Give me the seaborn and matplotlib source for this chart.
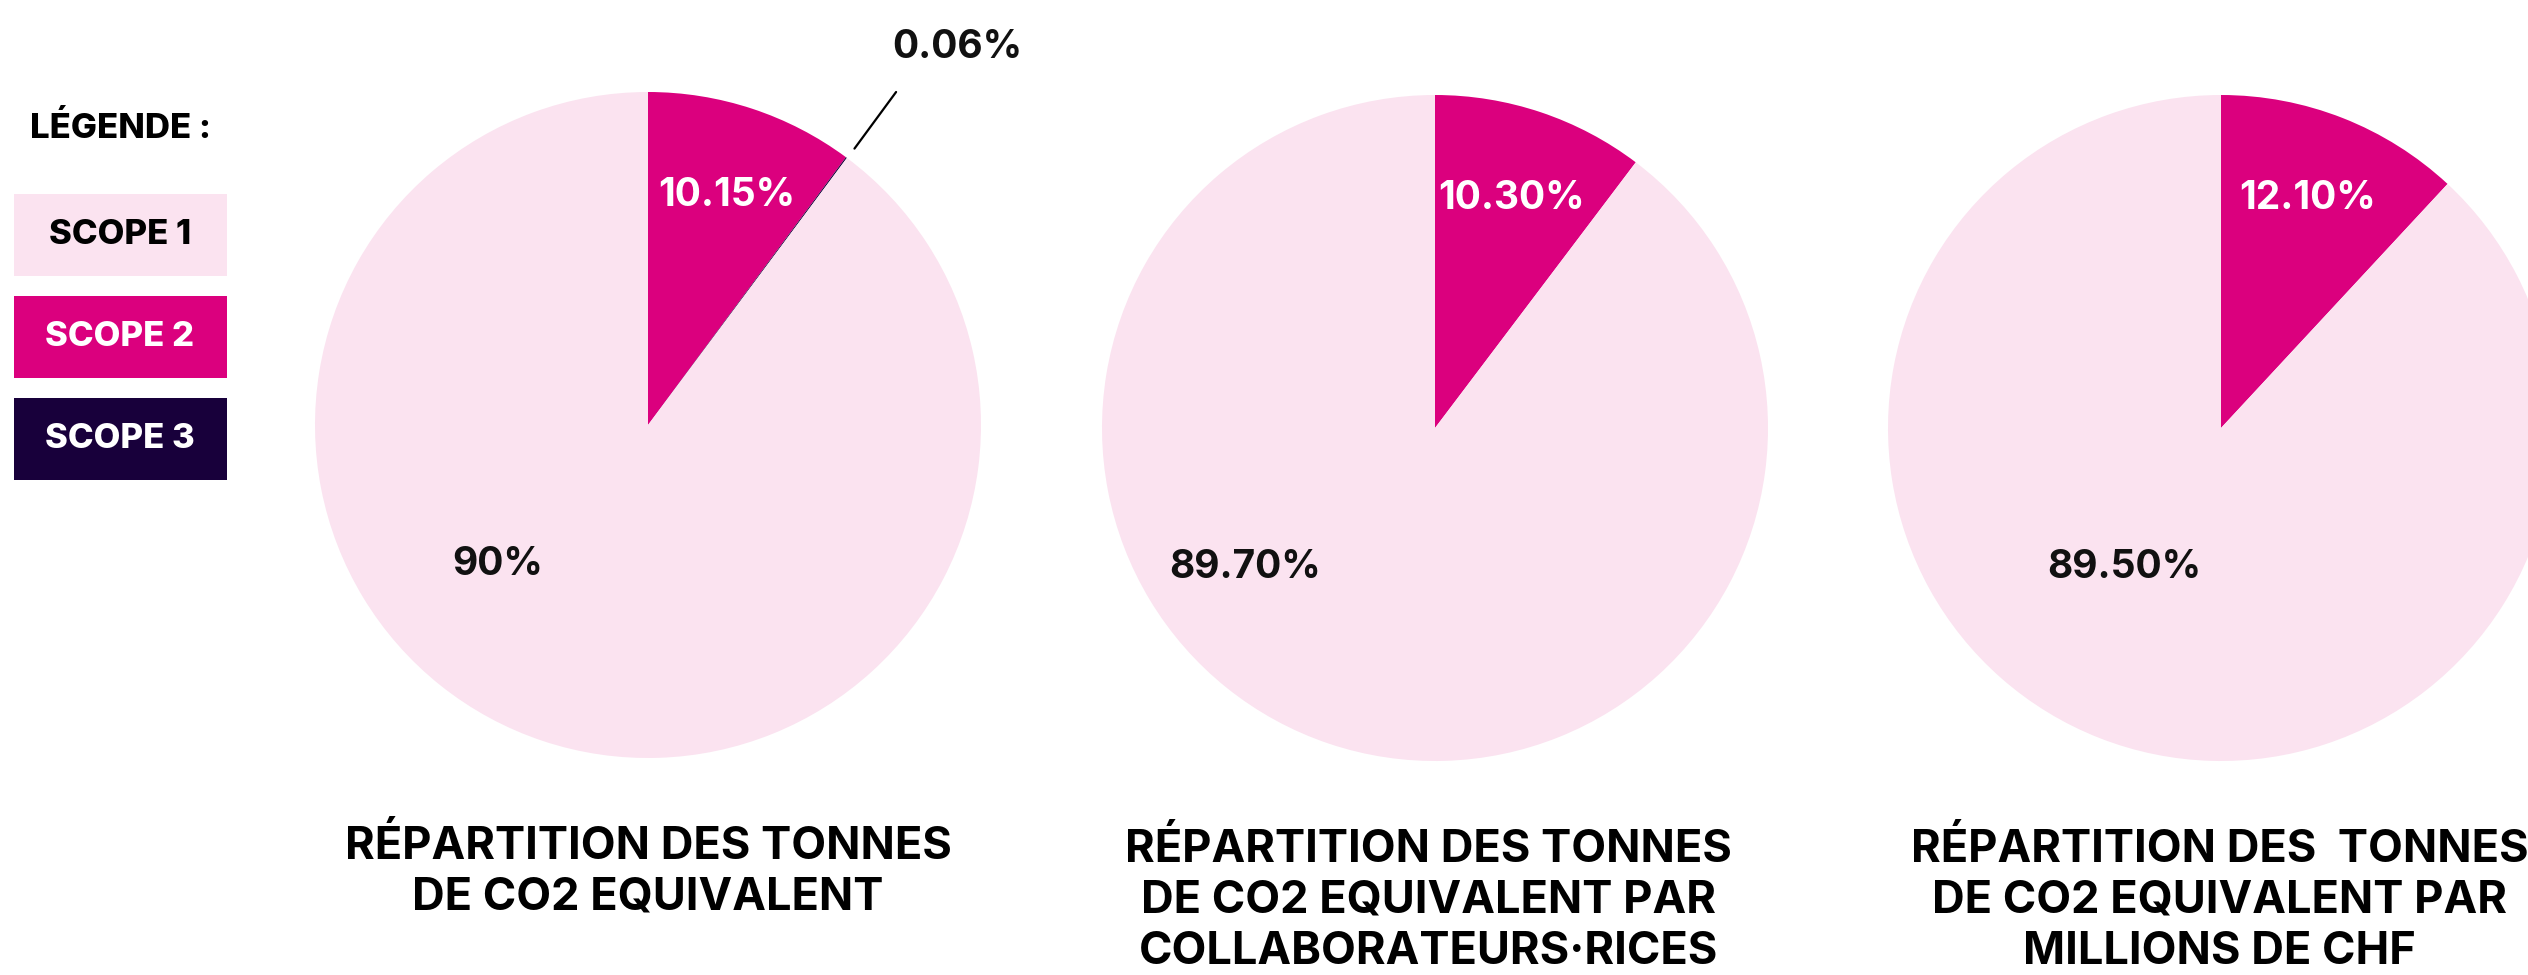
import matplotlib.pyplot as plt
import seaborn as sns

# données (en %)
scope1 = [90, 89.70, 89.50]
scope2 = [10.15, 10.30, 12.10]
scope3 = [0.06, 0, 0]
lbl_scope1 = ['90%', '89.70%', '89.50%']
lbl_scope2 = ['10.15%', '10.30%', '12.10%']
lbl_scope3 = ['0.06%', '', '']
titles = [
    'RÉPARTITION DES TONNES\nDE CO2 EQUIVALENT',
    'RÉPARTITION DES TONNES\nDE CO2 EQUIVALENT PAR\nCOLLABORATEURS·RICES',
    'RÉPARTITION DES  TONNES\nDE CO2 EQUIVALENT PAR\nMILLIONS DE CHF',
]
legend_labels = ['SCOPE 1', 'SCOPE 2', 'SCOPE 3']

# mise en page (positions des étiquettes en rayon de camembert)
centers_px = [(648, 425), (1435, 428), (2221, 428)]
radius_px = 333
pos_scope2 = [(0.235, 0.69), (0.23, 0.69), (0.26, 0.69)]
pos_scope1 = [(-0.45, -0.42), (-0.57, -0.42), (-0.29, -0.42)]
title_x = [0, -0.02, -0.005]

W, H = 2528, 975
sns.set_theme(style='white')
colors = sns.color_palette(['#FBE3F0', '#DB007E', '#18003B'])
plt.rcParams['font.family'] = ['Inter', 'DejaVu Sans']

fig = plt.figure(figsize=(W / 100, H / 100), dpi=100)
fig.patch.set_facecolor('white')

for i, (cx, cy) in enumerate(centers_px):
    ax = fig.add_axes([(cx - radius_px) / W, (H - cy - radius_px) / H,
                       2 * radius_px / W, 2 * radius_px / H])
    vals = [scope2[i], scope3[i], scope1[i]]
    cols = [colors[1], colors[2], colors[0]]
    ax.pie(vals, colors=cols, startangle=90, counterclock=False,
           wedgeprops={'linewidth': 0})
    ax.set_xlim(-1, 1)
    ax.set_ylim(-1, 1)
    ax.axis('off')

    ax.text(*pos_scope2[i], lbl_scope2[i], ha='center', va='center',
            color='white', fontsize=28, fontweight='bold')
    ax.text(*pos_scope1[i], lbl_scope1[i], ha='center', va='center',
            color='#111111', fontsize=28, fontweight='bold')
    if lbl_scope3[i]:
        ax.plot([0.62, 0.745], [0.83, 1.0], color='black', lw=1.6,
                clip_on=False)
        ax.text(0.93, 1.135, lbl_scope3[i], ha='center', va='center',
                color='#111111', fontsize=28, fontweight='bold')

    ax.text(title_x[i], -1.2, titles[i], ha='center', va='top',
            color='black', fontsize=32.5, fontweight='bold',
            linespacing=1.28)

# légende
fig.text(30 / W, 1 - 129 / H, 'LÉGENDE :', ha='left', va='center',
         fontsize=25, fontweight='heavy', color='black')
box_top = [194, 296, 398]
txt_cols = ['black', 'white', 'white']
for lab, top, col, tc in zip(legend_labels, box_top, colors, txt_cols):
    rect = plt.Rectangle((14 / W, 1 - (top + 82) / H), 213 / W, 82 / H,
                         transform=fig.transFigure, facecolor=col,
                         edgecolor='none')
    fig.patches.append(rect)
    fig.text(120 / W, 1 - (top + 41) / H, lab, ha='center', va='center',
             fontsize=25, fontweight='heavy', color=tc)

fig.savefig('out.png', dpi=100, facecolor='white')
